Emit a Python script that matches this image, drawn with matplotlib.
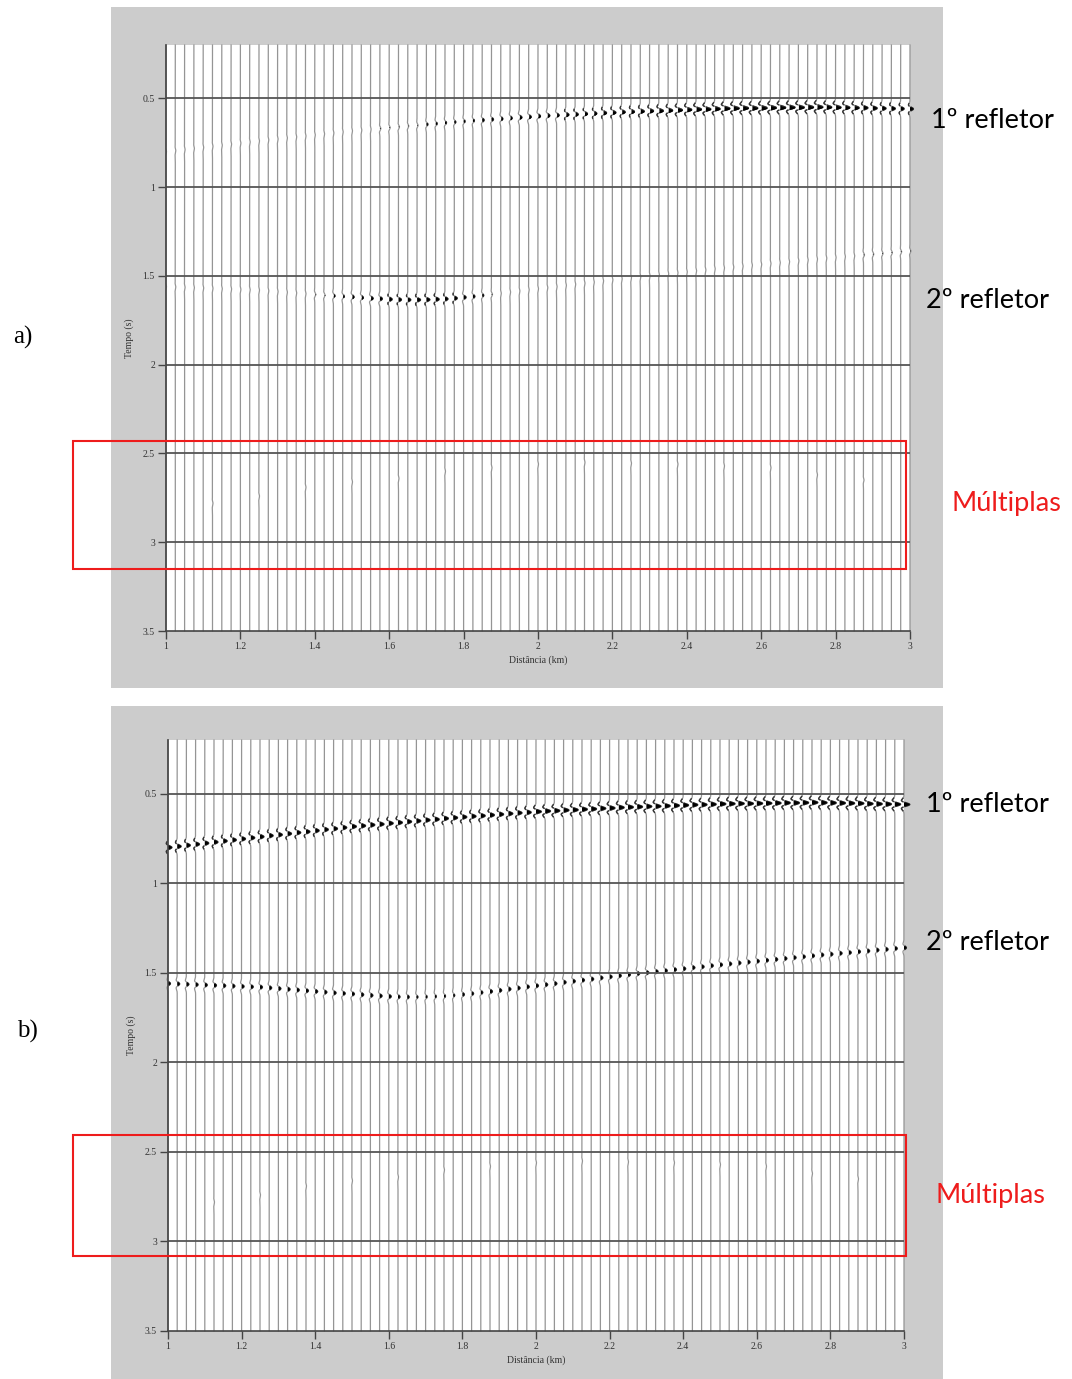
import numpy
import matplotlib
matplotlib.use('Agg')
import matplotlib.pyplot as plt
from matplotlib.patches import Rectangle

W, H = 1072, 1379

# one trace every 25 m between 1 and 3 km
DIST_START = 1.0
DIST_STEP = 0.025
N_TRACES = 81

# picked times (ms) of the two reflectors on each trace
T1_MS = [800, 794, 788, 782, 776, 770, 764, 758, 752, 746,
         740, 734, 729, 723, 717, 712, 706, 700, 695, 689,
         683, 679, 674, 670, 665, 661, 656, 652, 647, 643,
         638, 634, 630, 626, 623, 619, 615, 611, 607, 604,
         600, 597, 595, 592, 590, 587, 585, 582, 580, 577,
         575, 573, 571, 570, 568, 566, 564, 562, 561, 559,
         557, 556, 555, 555, 554, 553, 552, 551, 551, 550,
         549, 550, 551, 552, 553, 554, 556, 557, 558, 559, 560]
T2_MS = [1560, 1562, 1564, 1566, 1568, 1570, 1572, 1574, 1576, 1578,
         1580, 1584, 1588, 1592, 1596, 1600, 1604, 1608, 1612, 1615,
         1618, 1622, 1626, 1629, 1632, 1634, 1635, 1635, 1634, 1632,
         1630, 1626, 1621, 1616, 1610, 1604, 1598, 1591, 1585, 1578,
         1572, 1566, 1560, 1553, 1547, 1541, 1535, 1528, 1522, 1516,
         1510, 1504, 1499, 1493, 1488, 1482, 1477, 1471, 1466, 1460,
         1455, 1450, 1445, 1440, 1435, 1430, 1425, 1420, 1415, 1410,
         1405, 1400, 1396, 1391, 1387, 1382, 1378, 1373, 1369, 1364, 1360]

# faint multiples, seen only on every 5th trace
MULT_DIST = [1.125, 1.25, 1.375, 1.5, 1.625, 1.75, 1.875, 2.0,
             2.125, 2.25, 2.375, 2.5, 2.625, 2.75, 2.875]
MULT_MS = [2780, 2740, 2690, 2660, 2640, 2600, 2580, 2560,
           2550, 2555, 2560, 2570, 2580, 2620, 2650]

# relative amplitudes per trace
AMP_A1 = ([1] * 20 +
          [1, 1, 1, 2, 2, 2, 2, 2, 3, 3] +
          [3, 3, 3, 3, 4, 4, 4, 4, 5, 5] +
          [5, 5, 5, 6, 6, 6, 6, 7, 7, 7] +
          [7, 8, 8, 9, 9, 10, 10, 11, 11, 11] +
          [12] * 10 +
          [12, 11, 11, 10, 10, 9, 9, 8, 8, 7, 7])
AMP_A2 = ([1] * 10 +
          [1, 1, 1, 1, 1, 1, 2, 2, 3, 3] +
          [4, 4, 5, 5, 6, 6, 6, 7, 7, 7] +
          [6, 6, 5, 4, 3, 2, 1, 1, 1, 1] +
          [1] * 30 +
          [1, 1, 1, 1, 1, 2, 2, 2, 2, 2, 2])
AMP_B1 = ([8] * 20 + [9] * 20 + [11] * 20 + [12] * 21)
AMP_B2 = ([5] * 25 + [4, 4, 3, 3, 3, 3, 3, 4, 4, 4] + [5] * 46)
AMP_MULT = 1.0

Y_TICKS = [0.5, 1, 1.5, 2, 2.5, 3, 3.5]
Y_LABELS = ['0.5', '1', '1.5', '2', '2.5', '3', '3.5']
X_TICKS = [1, 1.2, 1.4, 1.6, 1.8, 2, 2.2, 2.4, 2.6, 2.8, 3]
X_LABELS = ['1', '1.2', '1.4', '1.6', '1.8', '2', '2.2', '2.4', '2.6', '2.8', '3']


def ricker(t, f=17.0):
    a = (numpy.pi * f * t) ** 2
    return (1 - 2 * a) * numpy.exp(-a)


def draw_section(ax, amp1, amp2):
    t = numpy.arange(0.2, 3.5, 0.0005)
    dist = DIST_START + DIST_STEP * numpy.arange(N_TRACES)
    scale = 0.0013
    for i in range(N_TRACES):
        x0 = dist[i]
        w = amp1[i] * ricker(t - T1_MS[i] / 1000.0)
        w += amp2[i] * ricker(t - T2_MS[i] / 1000.0)
        for md, mt in zip(MULT_DIST, MULT_MS):
            if abs(md - x0) < 1e-6:
                w += AMP_MULT * ricker(t - mt / 1000.0)
        w *= scale
        ax.plot(x0 + w, t, color='#959595', lw=0.9, clip_on=False, zorder=2)
        # darker stroke where the trace is deflected by a strong event
        strong = numpy.ma.masked_where(numpy.abs(w) < 0.003, x0 + w)
        ax.plot(strong, t, color='#333333', lw=1.0, clip_on=False, zorder=3)
        ax.fill_betweenx(t, x0, x0 + w, where=w > 0.0025, color='black',
                         lw=0, clip_on=False, zorder=3)

    for y in Y_TICKS[:-1]:
        ax.axhline(y, color='#555555', lw=1.3, zorder=4)

    ax.set_xlim(1, 3)
    ax.set_ylim(3.5, 0.2)
    ax.set_yticks(Y_TICKS)
    ax.set_yticklabels(Y_LABELS)
    ax.set_xticks(X_TICKS)
    ax.set_xticklabels(X_LABELS)
    for s in ['top', 'right']:
        ax.spines[s].set_visible(False)
    for s in ['left', 'bottom']:
        ax.spines[s].set_color('#444444')
        ax.spines[s].set_linewidth(1.2)
        ax.spines[s].set_zorder(5)
    ax.tick_params(direction='out', length=6, width=1, color='#444444',
                   labelsize=7, labelcolor='#333333', pad=2)
    for lab in ax.get_xticklabels() + ax.get_yticklabels():
        lab.set_family('Liberation Serif')
    ax.set_xlabel('Distância (km)', family='Liberation Serif', fontsize=7,
                  color='#333333', labelpad=3)
    ax.set_ylabel('Tempo (s)', family='Liberation Serif', fontsize=7,
                  color='#333333', labelpad=6)


def fig_box(x0, y0, x1, y1):
    # pixel box (top-left origin) -> figure fraction
    return (x0 / W, 1 - y1 / H, (x1 - x0) / W, (y1 - y0) / H)


fig = plt.figure(figsize=(W / 100, H / 100), dpi=100)
fig.patch.set_facecolor('white')

for box in [fig_box(111, 7, 943, 688), fig_box(111, 706, 943, 1379)]:
    fig.add_artist(Rectangle(box[:2], box[2], box[3], transform=fig.transFigure,
                             facecolor='#cccccc', edgecolor='none', zorder=-1))

ax_a = fig.add_axes(fig_box(166, 45, 910, 631))
draw_section(ax_a, AMP_A1, AMP_A2)
ax_b = fig.add_axes(fig_box(168, 740, 904, 1331))
draw_section(ax_b, AMP_B1, AMP_B2)

for box in [fig_box(73, 441, 906, 569), fig_box(73, 1135, 906, 1256)]:
    fig.add_artist(Rectangle(box[:2], box[2], box[3], transform=fig.transFigure,
                             fill=False, edgecolor='#ee1c1c', lw=1.5, zorder=10))

label_font = dict(family='Lato', fontsize=19.5, va='center', ha='left')
fig.text(931 / W, 1 - 121 / H, '1º refletor', color='black', **label_font)
fig.text(926 / W, 1 - 300 / H, '2º refletor', color='black', **label_font)
fig.text(952 / W, 1 - 504 / H, 'Múltiplas', color='#ee1c1c', **label_font)
fig.text(926 / W, 1 - 804 / H, '1º refletor', color='black', **label_font)
fig.text(926 / W, 1 - 942 / H, '2º refletor', color='black', **label_font)
fig.text(936 / W, 1 - 1195 / H, 'Múltiplas', color='#ee1c1c', **label_font)

fig.text(13 / W, 1 - 337 / H, 'a)', family='Liberation Serif', fontsize=18,
         va='center', ha='left')
fig.text(17 / W, 1 - 1031 / H, 'b)', family='Liberation Serif', fontsize=18,
         va='center', ha='left')

fig.savefig('out.png', dpi=100)
